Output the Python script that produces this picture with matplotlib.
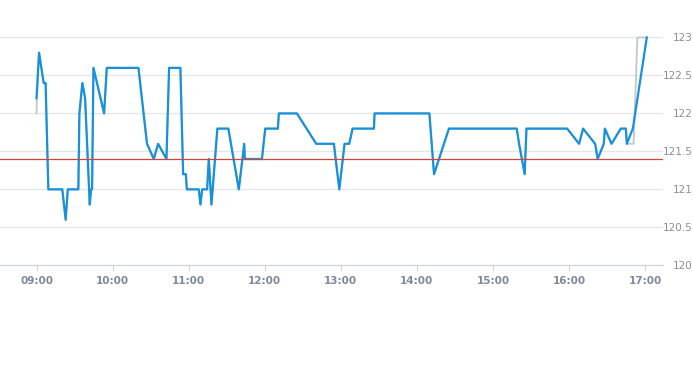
import matplotlib
matplotlib.use('Agg')
import matplotlib.pyplot as plt
import matplotlib.dates as mdates
import pandas as pd

# intraday price (blue)
times = ['09:00:00', '09:02:00', '09:05:40', '09:07:10', '09:09:20', '09:20:20', '09:23:00',
         '09:24:40', '09:33:00', '09:33:50', '09:36:10', '09:38:20', '09:42:00', '09:43:00',
         '09:43:50', '09:44:55', '09:53:20', '09:55:25', '10:20:25', '10:27:10', '10:32:30',
         '10:35:55', '10:42:30', '10:44:35', '10:53:30', '10:55:40', '10:57:50', '10:58:35',
         '11:08:00', '11:09:20', '11:10:40', '11:14:35', '11:15:55', '11:18:00', '11:22:40',
         '11:31:20', '11:39:35', '11:43:50', '11:44:20', '11:57:50', '12:00:25', '12:10:25',
         '12:11:10', '12:25:25', '12:40:40', '12:54:35', '12:58:50', '13:03:00', '13:06:40',
         '13:09:20', '13:26:10', '13:26:40', '14:09:55', '14:13:35', '14:25:20', '15:18:50',
         '15:20:40', '15:25:05', '15:26:30', '15:58:35', '16:08:00', '16:11:10', '16:20:40',
         '16:22:40', '16:27:30', '16:28:20', '16:33:35', '16:40:55', '16:44:55', '16:45:40',
         '16:50:25', '17:01:25']
prices = [122.2, 122.8, 122.4, 122.4, 121.0, 121.0, 120.6,
          121.0, 121.0, 122.0, 122.4, 122.2, 120.8, 121.0,
          121.0, 122.6, 122.0, 122.6, 122.6, 121.6, 121.4,
          121.6, 121.4, 122.6, 122.6, 121.2, 121.2, 121.0,
          121.0, 120.8, 121.0, 121.0, 121.4, 120.8, 121.8,
          121.8, 121.0, 121.6, 121.4, 121.4, 121.8, 121.8,
          122.0, 122.0, 121.6, 121.6, 121.0, 121.6, 121.6,
          121.8, 121.8, 122.0, 122.0, 121.2, 121.8, 121.8,
          121.6, 121.2, 121.8, 121.8, 121.6, 121.8, 121.6,
          121.4, 121.6, 121.8, 121.6, 121.8, 121.8, 121.6,
          121.8, 123.0]

# second (gray) series, mostly hidden under the blue one
gray_times = ['09:00:00', '09:00:20'] + times[1:-2] + ['16:51:00', '16:54:00', '17:01:25']
gray_prices = [122.0, 122.2] + prices[1:-2] + [121.6, 123.0, 123.0]

ref_level = 121.4
yticks = [120, 120.5, 121, 121.5, 122, 122.5, 123]
ytick_labels = ['120', '120.5', '121', '121.5', '122', '122.5', '123']

day = '2020-01-02 '
t = pd.to_datetime([day + s for s in times])
tg = pd.to_datetime([day + s for s in gray_times])

fig = plt.figure(figsize=(6.93, 3.65), dpi=100)
ax = fig.add_axes([0, 1 - 265.3 / 365, 663 / 693, (265.3 - 20) / 365])

ax.plot(tg, gray_prices, color='#c3c8ce', lw=1.3, zorder=2)
ax.plot(t, prices, color='#1791dc', lw=1.6, zorder=3)
ax.axhline(ref_level, color='#d0443e', lw=0.9, zorder=4)

ax.set_ylim(120, 123 + 17.5 / 76)
x0 = pd.Timestamp(day + '09:00:00') - pd.Timedelta(minutes=28.8)
x1 = pd.Timestamp(day + '17:00:00') + pd.Timedelta(minutes=14.2)
ax.set_xlim(x0, x1)

ax.set_yticks(yticks)
ax.set_yticklabels(ytick_labels)
ax.yaxis.tick_right()
ax.grid(axis='y', color='#e2e6ea', lw=0.9)
ax.set_axisbelow(True)

ax.xaxis.set_major_locator(mdates.HourLocator())
ax.xaxis.set_major_formatter(mdates.DateFormatter('%H:%M'))

for s in ['top', 'left', 'right']:
    ax.spines[s].set_visible(False)
ax.spines['bottom'].set_color('#ccd6e0')
ax.spines['bottom'].set_linewidth(0.9)

ax.tick_params(axis='x', length=4, color='#ccd6e0', labelsize=7.5, labelcolor='#7d8a9c', pad=4)
ax.tick_params(axis='y', length=0, labelsize=7.5, labelcolor='#8e8e8e', pad=21.6)
for lbl in ax.get_yticklabels():
    lbl.set_horizontalalignment('right')
for lbl in ax.get_xticklabels():
    lbl.set_fontweight('bold')

fig.savefig('out.png', dpi=100)
